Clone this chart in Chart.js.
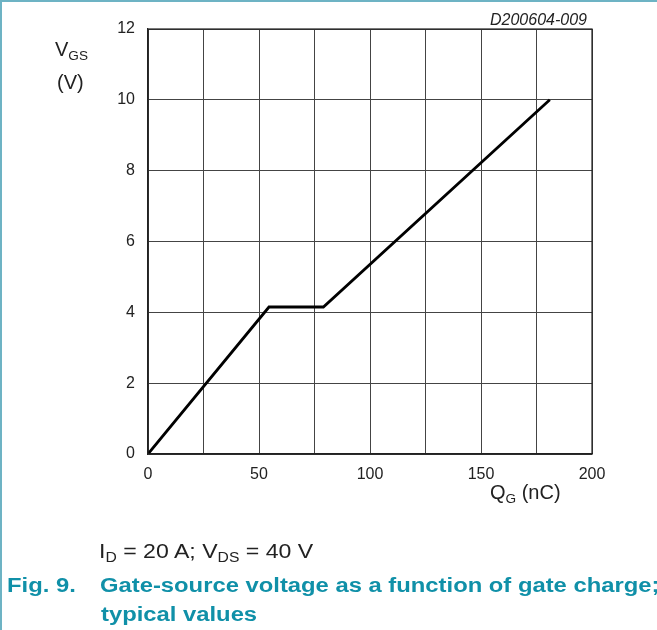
<!DOCTYPE html>
<html>
<head>
<meta charset="utf-8">
<script src="https://cdn.jsdelivr.net/npm/chart.js@4/dist/chart.umd.min.js"></script>
<style>
    html, body { margin: 0; padding: 0; background: #fff; }
    body { width: 657px; height: 630px; overflow: hidden; position: relative; font-family: "Liberation Sans", Arial, sans-serif; }
    .frame { position: absolute; left: 0; top: 0; width: 655px; height: 628px; border-top: 2px solid #6db3c4; border-left: 2px solid #6db3c4; }
    #wrap { position: absolute; left: 0; top: 0; width: 657px; height: 630px; }
    .txt { position: absolute; color: #222; white-space: nowrap; transform-origin: left top; }
    .txt sub { font-size: 0.68em; vertical-align: -0.3em; }
    .cap { position: absolute; color: #1090a8; font-weight: bold; font-size: 20px; white-space: nowrap; transform-origin: left top; transform: scaleX(1.19); }
</style>
</head>
<body>
<div class="frame"></div>
<div id="wrap"><canvas id="gateChart" width="657" height="630"></canvas></div>

<div class="txt" style="left:55px;top:38px;font-size:20px;">V<sub>GS</sub></div>
<div class="txt" style="left:57px;top:71px;font-size:20px;">(V)</div>
<div class="txt" style="left:490px;top:481px;font-size:20px;">Q<sub>G</sub> (nC)</div>
<div class="txt" style="left:490px;top:11px;font-size:16px;font-style:italic;">D200604-009</div>
<div class="txt" style="left:99px;top:539px;font-size:21px;transform:scaleX(1.1);">I<sub>D</sub> = 20 A; V<sub>DS</sub> = 40 V</div>
<div class="cap" style="left:7px;top:574px;">Fig. 9.</div>
<div class="cap" style="left:100px;top:574px;">Gate-source voltage as a function of gate charge;</div>
<div class="cap" style="left:101px;top:603px;">typical values</div>

<script>
    // gate charge curve
    const gateCharge = [0, 54.5, 79, 181];     // Q_G (nC)
    const gateVoltage = [0, 4.15, 4.15, 10];   // V_GS (V)
    const xTicks = [0, 50, 100, 150, 200];
    const yTicks = [0, 2, 4, 6, 8, 10, 12];

    const points = gateCharge.map(function(q, i) {
        return { x: q, y: gateVoltage[i] };
    });

    new Chart(document.getElementById('gateChart'), {
        type: 'scatter',
        data: {
            datasets: [{
                data: points,
                showLine: true,
                borderColor: '#000',
                borderWidth: 2.8,
                pointRadius: 0,
                tension: 0
            }]
        },
        options: {
            responsive: false,
            animation: false,
            layout: { padding: { left: 118, top: 29, right: 65, bottom: 146 } },
            plugins: { legend: { display: false }, tooltip: { enabled: false } },
            scales: {
                x: {
                    type: 'linear',
                    min: 0,
                    max: 200,
                    afterFit: function(scale) { scale.height = 30; },
                    afterBuildTicks: function(scale) {
                        const t = [];
                        for (let v = 0; v <= 200; v += 25) t.push({ value: v });
                        scale.ticks = t;
                    },
                    ticks: {
                        autoSkip: false,
                        maxRotation: 0,
                        padding: 11,
                        color: '#222',
                        font: { family: 'Liberation Sans', size: 16 },
                        callback: function(value) {
                            return xTicks.indexOf(value) >= 0 ? String(value) : '';
                        }
                    },
                    grid: { color: '#444', lineWidth: 1, drawTicks: false },
                    border: { color: '#222', width: 1.2 }
                },
                y: {
                    type: 'linear',
                    min: 0,
                    max: 12,
                    afterFit: function(scale) { scale.width = 30; },
                    afterBuildTicks: function(scale) {
                        scale.ticks = yTicks.map(function(v) { return { value: v }; });
                    },
                    ticks: {
                        padding: 13,
                        color: '#222',
                        font: { family: 'Liberation Sans', size: 16 }
                    },
                    grid: { color: '#444', lineWidth: 1, drawTicks: false },
                    border: { color: '#222', width: 1.2 }
                }
            }
        },
        plugins: [{
            id: 'frameBox',
            afterDatasetsDraw: function(chart) {
                const a = chart.chartArea;
                const ctx = chart.ctx;
                ctx.save();
                ctx.strokeStyle = '#222';
                ctx.lineWidth = 1.2;
                ctx.strokeRect(a.left, a.top, a.right - a.left, a.bottom - a.top);
                ctx.restore();
            }
        }]
    });
</script>
</body>
</html>
